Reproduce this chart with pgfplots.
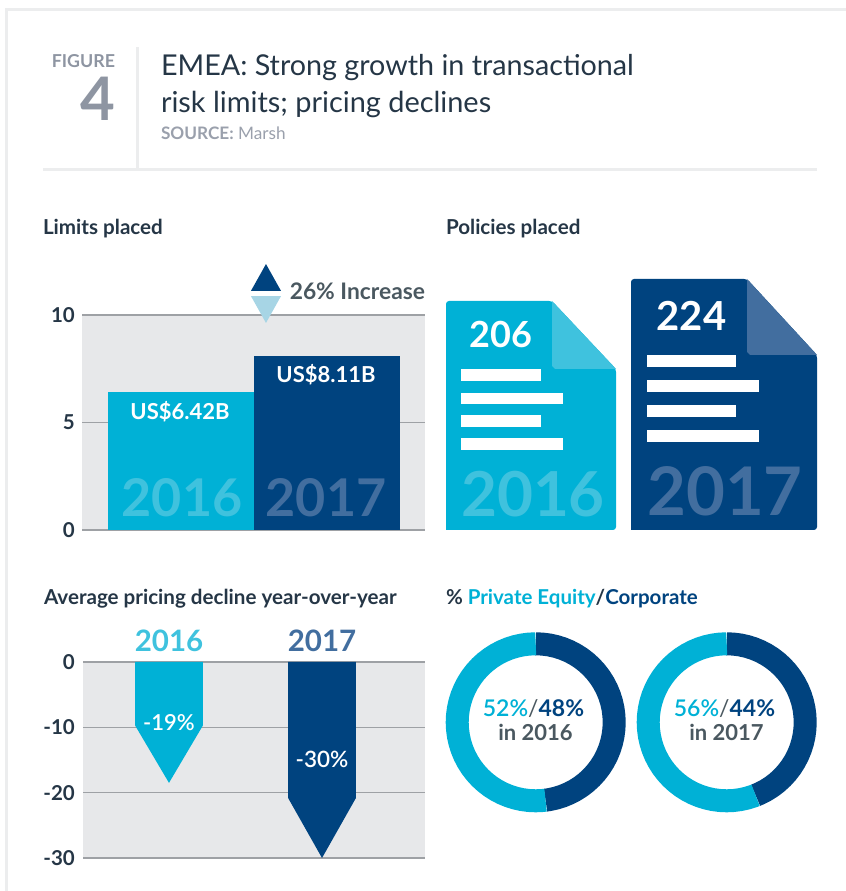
\documentclass[border=0pt]{standalone}
\usepackage{fontspec}
\usepackage{pgfplots}
\pgfplotsset{compat=1.18}
\setmainfont{Lato}
\newfontfamily\semi{Lato}[UprightFont={* Semibold}]
\definecolor{navy}{HTML}{00437F}
\definecolor{cyanb}{HTML}{00B1D6}
\definecolor{cyanf}{HTML}{3FC2DE}
\definecolor{navyf}{HTML}{426E9F}
\definecolor{lightt}{HTML}{A7D5E5}
\definecolor{bggray}{HTML}{E7E8EA}
\definecolor{gridg}{HTML}{9EA1A5}
\definecolor{rulec}{HTML}{ECEDEE}
\definecolor{ink}{HTML}{253646}
\definecolor{slate}{HTML}{4A5860}
\definecolor{figg}{HTML}{8E95A2}
\definecolor{srcg}{HTML}{9AA0AC}
\newcommand\fs[1]{\fontsize{#1bp}{#1bp}\selectfont}
% \lab{anchor}{x px}{baseline px}{text}
\newcommand\lab[4]{\node[anchor=#1,inner sep=0pt,outer sep=0pt] at (#2bp,{(891-#3)*1bp}) {#4};}
\pgfplotsset{barchart/.style={
  scale only axis, clip=false,
  axis line style={draw=none}, tick style={draw=none},
  xtick=\empty, ymajorgrids,
  grid style={gridg,line width=1.1bp},
  axis background/.style={fill=bggray},
  /pgf/number format/assume math mode=true,
  yticklabel style={font=\bfseries\fs{20.5}\color{ink},anchor=east,inner sep=0pt},
}}
\begin{document}
\begin{tikzpicture}
\path[use as bounding box] (0bp,0bp) rectangle (846bp,891bp);
% frame and rules
\fill[rulec] (5bp,0bp) rectangle (8bp,883bp);
\fill[rulec] (5bp,880bp) rectangle (846bp,883bp);
\fill[rulec] (43bp,720bp) rectangle (817bp,722.5bp);
\fill[rulec] (136bp,722bp) rectangle (138.5bp,844bp);
% header
\lab{base east}{115}{67.7}{\color{figg}\bfseries\fs{17.8}FIGURE}
\lab{base east}{115}{121}{\color{figg}\bfseries\fs{60}4}
\lab{base west}{161}{76}{\color{ink}\fs{28.7}EMEA: Strong growth in transactional}
\lab{base west}{161}{113}{\color{ink}\fs{28.9}risk limits; pricing declines}
\lab{base west}{161}{140}{\color{srcg}\fs{17.2}\textbf{SOURCE:} Marsh}
\lab{base west}{43}{235}{\color{ink}\bfseries\fs{20.6}Limits placed}
\lab{base west}{446}{235}{\color{ink}\bfseries\fs{20.6}Policies placed}
\lab{base west}{44}{604}{\color{ink}\bfseries\fs{20.6}Average pricing decline year-over-year}
\lab{base west}{446}{604}{\bfseries\fs{20.5}\color{ink}\% \color{cyanb}Private Equity\color{ink}/\color{navy}Corporate}
% Limits placed
\begin{axis}[barchart, at={(82bp,361bp)}, anchor=south west, width=343bp, height=215bp,
  xmin=-0.678, xmax=1.671, ymin=0, ymax=10, ytick={0,5,10},
  ybar, bar width=1, bar shift=0pt,
  yticklabel style={xshift=-7bp}]
\addplot[fill=cyanb,draw=none] coordinates {(0,6.42)};
\addplot[fill=navy,draw=none] coordinates {(1,8.11)};
\addplot[sharp plot,fill=navy,draw=none] coordinates {(0.479,11.12)(0.685,11.12)(0.582,12.37)};
\addplot[sharp plot,fill=lightt,draw=none] coordinates {(0.479,10.88)(0.685,10.88)(0.582,9.63)};
\end{axis}
\lab{base}{180}{420}{\color{white}\bfseries\fs{22}US\$6.42B}
\lab{base}{326}{382.7}{\color{white}\bfseries\fs{22}US\$8.11B}
\lab{base}{182}{516.7}{\color{cyanf}\bfseries\fs{52}2016}
\lab{base}{326}{516.7}{\color{navyf}\bfseries\fs{52}2017}
\lab{base east}{425}{300}{\color{slate}\bfseries\fs{22.8}26\% Increase}
% Policies placed (page-scale sheets)
\begin{axis}[scale only axis, hide axis, clip=false, at={(446bp,361bp)}, anchor=south west,
  width=371bp, height=251bp, xmin=446, xmax=817, ymin=0, ymax=251]
\addplot[fill=cyanb,draw=none,rounded corners=3bp] coordinates {(446,0)(446,229)(552,229)(616,161)(616,0)(446,0)};
\addplot[fill=cyanf,draw=none] coordinates {(552,229)(616,161)(555,161)(552,164)};
\addplot[fill=white,draw=none] coordinates {(461,161)(541,161)(541,149)(461,149)};
\addplot[fill=white,draw=none] coordinates {(461,137.3)(563,137.3)(563,126)(461,126)};
\addplot[fill=white,draw=none] coordinates {(461,114.7)(541,114.7)(541,103)(461,103)};
\addplot[fill=white,draw=none] coordinates {(461,91.7)(563,91.7)(563,80)(461,80)};
\addplot[fill=navy,draw=none,rounded corners=3bp] coordinates {(631,0)(631,251)(747,251)(817,175)(817,0)(631,0)};
\addplot[fill=navyf,draw=none] coordinates {(747,251)(817,175)(750,175)(747,178)};
\addplot[fill=white,draw=none] coordinates {(647,175.3)(736,175.3)(736,162.7)(647,162.7)};
\addplot[fill=white,draw=none] coordinates {(647,150.3)(759,150.3)(759,137.7)(647,137.7)};
\addplot[fill=white,draw=none] coordinates {(647,125.3)(736,125.3)(736,112.7)(647,112.7)};
\addplot[fill=white,draw=none] coordinates {(647,100)(759,100)(759,87.7)(647,87.7)};
\end{axis}
\lab{base}{501}{347.7}{\color{white}\bfseries\fs{36}206}
\lab{base}{691.5}{331}{\color{white}\bfseries\fs{40}224}
\lab{base}{533}{516}{\color{cyanf}\bfseries\fs{62}2016}
\lab{base}{725}{515}{\color{navyf}\bfseries\fs{67}2017}
% Pricing decline
\begin{axis}[barchart, at={(83bp,33bp)}, anchor=south west, width=342bp, height=196bp,
  xmin=-0.562, xmax=1.673, ymin=-30, ymax=0, ytick={-30,-20,-10,0},
  yticklabel style={xshift=-8bp}]
\addplot[fill=cyanb,draw=none] coordinates {(-0.222,0)(0.222,0)(0.222,-9.7)(0,-18.5)(-0.222,-9.7)};
\addplot[fill=navy,draw=none] coordinates {(0.778,0)(1.222,0)(1.222,-20.8)(1,-30)(0.778,-20.8)};
\end{axis}
\lab{base}{169}{651.7}{\color{cyanf}\bfseries\fs{29.5}2016}
\lab{base}{322}{651.7}{\color{navyf}\bfseries\fs{29.5}2017}
\lab{base}{169}{730}{\color{white}\semi\fs{22}-19\%}
\lab{base}{322}{767}{\color{white}\semi\fs{22.5}-30\%}
% Donuts
\pgfplotsset{donut/.style={scale only axis, hide axis, clip=false, anchor=center, width=180bp, height=180bp,
  xmin=-90, xmax=90, ymin=-90, ymax=90, every axis plot/.append style={no marks, data cs=polar, line width=23bp, line join=round, fill=none}}}
\begin{axis}[donut, at={(535.7bp,168.7bp)}]
\addplot[navy] coordinates {(90,78.5)(85,78.5)(80,78.5)(75,78.5)(70,78.5)(65,78.5)(60,78.5)(55,78.5)(50,78.5)(45,78.5)(40,78.5)(35,78.5)(30,78.5)(25,78.5)(20,78.5)(15,78.5)(10,78.5)(5,78.5)(0,78.5)(-5,78.5)(-10,78.5)(-15,78.5)(-20,78.5)(-25,78.5)(-30,78.5)(-35,78.5)(-40,78.5)(-45,78.5)(-50,78.5)(-55,78.5)(-60,78.5)(-65,78.5)(-70,78.5)(-75,78.5)(-80,78.5)(-82.8,78.5)};
\addplot[cyanb] coordinates {(-82.8,78.5)(-85,78.5)(-90,78.5)(-95,78.5)(-100,78.5)(-105,78.5)(-110,78.5)(-115,78.5)(-120,78.5)(-125,78.5)(-130,78.5)(-135,78.5)(-140,78.5)(-145,78.5)(-150,78.5)(-155,78.5)(-160,78.5)(-165,78.5)(-170,78.5)(-175,78.5)(-180,78.5)(-185,78.5)(-190,78.5)(-195,78.5)(-200,78.5)(-205,78.5)(-210,78.5)(-215,78.5)(-220,78.5)(-225,78.5)(-230,78.5)(-235,78.5)(-240,78.5)(-245,78.5)(-250,78.5)(-255,78.5)(-260,78.5)(-265,78.5)(-270,78.5)};
\end{axis}
\begin{axis}[donut, at={(726.7bp,168.7bp)}]
\addplot[navy] coordinates {(90,78.5)(85,78.5)(80,78.5)(75,78.5)(70,78.5)(65,78.5)(60,78.5)(55,78.5)(50,78.5)(45,78.5)(40,78.5)(35,78.5)(30,78.5)(25,78.5)(20,78.5)(15,78.5)(10,78.5)(5,78.5)(0,78.5)(-5,78.5)(-10,78.5)(-15,78.5)(-20,78.5)(-25,78.5)(-30,78.5)(-35,78.5)(-40,78.5)(-45,78.5)(-50,78.5)(-55,78.5)(-60,78.5)(-65,78.5)(-68.4,78.5)};
\addplot[cyanb] coordinates {(-68.4,78.5)(-70,78.5)(-75,78.5)(-80,78.5)(-85,78.5)(-90,78.5)(-95,78.5)(-100,78.5)(-105,78.5)(-110,78.5)(-115,78.5)(-120,78.5)(-125,78.5)(-130,78.5)(-135,78.5)(-140,78.5)(-145,78.5)(-150,78.5)(-155,78.5)(-160,78.5)(-165,78.5)(-170,78.5)(-175,78.5)(-180,78.5)(-185,78.5)(-190,78.5)(-195,78.5)(-200,78.5)(-205,78.5)(-210,78.5)(-215,78.5)(-220,78.5)(-225,78.5)(-230,78.5)(-235,78.5)(-240,78.5)(-245,78.5)(-250,78.5)(-255,78.5)(-260,78.5)(-265,78.5)(-270,78.5)};
\end{axis}
\lab{base}{533.5}{716.7}{\fs{23}{\semi\color{cyanb}52\%}\color{slate}/\bfseries\color{navy}48\%}
\lab{base}{535.5}{740.7}{\color{slate}\bfseries\fs{22}in 2016}
\lab{base}{724.5}{716.7}{\fs{23}{\semi\color{cyanb}56\%}\color{slate}/\bfseries\color{navy}44\%}
\lab{base}{726.5}{740.7}{\color{slate}\bfseries\fs{22}in 2017}
\end{tikzpicture}
\end{document}
